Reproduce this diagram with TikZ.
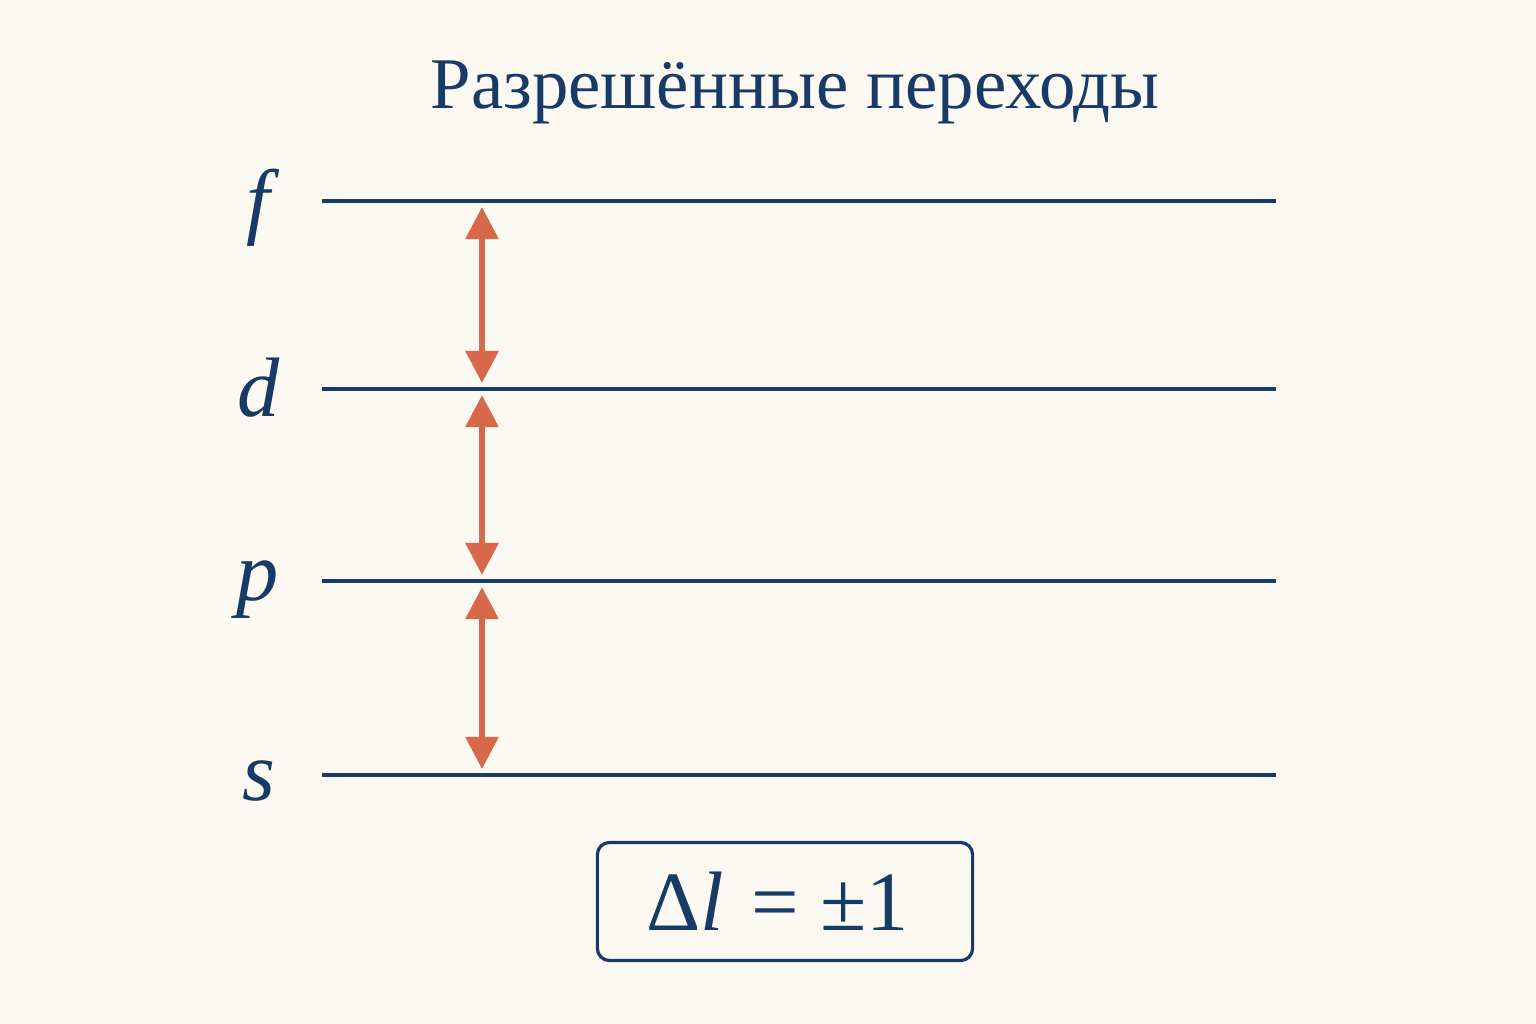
\documentclass[tikz,border=0pt]{standalone}
\usepackage{fontspec}
\setmainfont{Liberation Serif}
\usetikzlibrary{arrows.meta}
\definecolor{navy}{HTML}{173A66}
\definecolor{arrowred}{HTML}{D8684A}
\definecolor{bg}{HTML}{FCF8F2}
\tikzset{
  level/.style={draw=navy, line width=1.15pt},
  lvlabel/.style={text=navy, font=\fontsize{24}{28}\selectfont\itshape, anchor=base, inner sep=0pt},
  trans/.style={draw=arrowred, line width=1.7pt, {Triangle[width=0.32cm,length=0.32cm]}-{Triangle[width=0.32cm,length=0.32cm]}, shorten <=0.06cm, shorten >=0.06cm},
  rulebox/.style={draw=navy, line width=0.9pt, rounded corners=0.12cm, minimum width=3.75cm, minimum height=1.18cm, inner sep=0pt, text=navy, font=\fontsize{24}{28}\selectfont},
  titletext/.style={text=navy, font=\fontsize{20.7}{24}\selectfont, anchor=base, inner sep=0pt}
}
\begin{document}
\begin{tikzpicture}[x=0.01cm,y=-0.01cm]
\fill[bg] (0,0) rectangle (1536,1024);
\useasboundingbox (0,0) rectangle (1536,1024);
\node[titletext] (title) at (795,108) {Разрешённые переходы};
% levels
\foreach \n/\y in {f/201,d/389,p/581,s/775}{
  \coordinate (\n L) at (322,\y);
  \coordinate (\n R) at (1276,\y);
  \coordinate (\n A) at (482,\y);
  \draw[level] (\n L) -- (\n R);
}
\node[lvlabel] (labf) at (258,228) {f};
\node[lvlabel] (labd) at (259,416) {d};
\node[lvlabel] (labp) at (258,600) {p};
\node[lvlabel] (labs) at (259,800) {s};
\draw[trans] (fA) -- (dA);
\draw[trans] (dA) -- (pA);
\draw[trans] (pA) -- (sA);
\node[rulebox] (rule) at (785,901.5) {\hspace{-0.15cm}Δ\textit{l}\hspace{0.08em} = ±1};
\end{tikzpicture}
\end{document}
